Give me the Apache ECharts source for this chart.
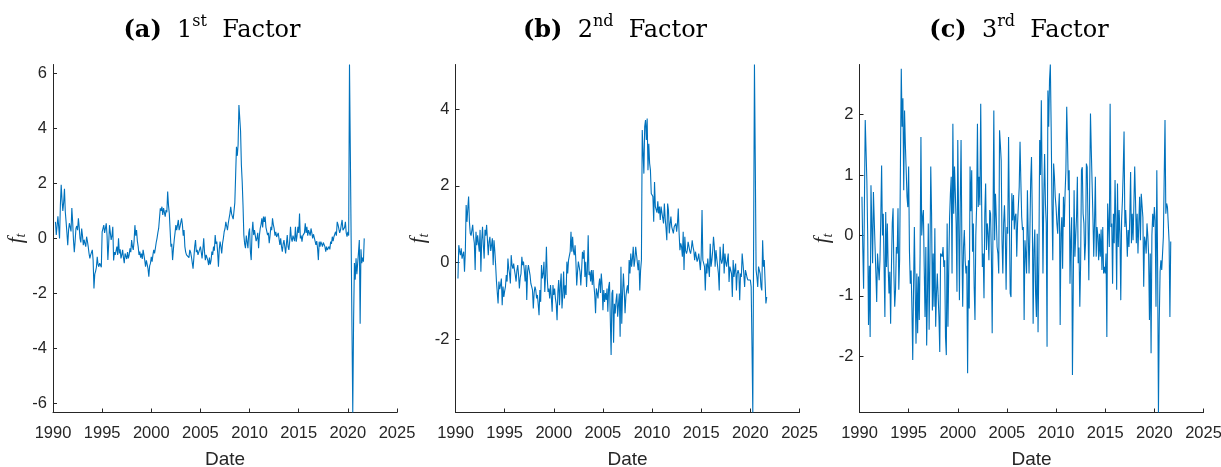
<!DOCTYPE html>
<html>
<head>
<meta charset="utf-8">
<script src="https://cdn.jsdelivr.net/npm/echarts@6/dist/echarts.min.js"></script>
<style>
html,body{margin:0;padding:0;background:#fff;}
#main{width:1221px;height:467px;}
</style>
</head>
<body>
<div id="main"></div>
<script>
// monthly factor estimates, Apr 1990 .. Sep 2021 (one row per year)
var startYear = 1990, startMonth = 4

var factor1 = [
  0.6, 0.12, 0.45, 0.8, 0.4, 0.0, 1.2, 1.95, 1.4,
  1.0, 1.3, 1.8, 0.97, 0.6, 0.2, -0.25, 0.3, 0.55, 0.6, 0.25, 1.1,
  0.6, -0.06, -0.5, -0.1, 0.36, 0.45, 0.3, 0.73, 0.4, 0.0, -0.15, 0.36,
  0.1, -0.25, -0.05, -0.18, -0.3, 0.06, -0.1, -0.3, -0.55, -0.73, -0.6, -0.67,
  -0.42, -0.8, -1.82, -1.3, -1.2, -1.05, -0.67, -0.95, -1.03, -0.9, -0.97, -1.05,
  0.24, 0.3, 0.48, 0.2, 0.36, 0.55, 0.1, -0.79, -0.2, 0.48, 0.2, -0.06,
  0.1, 0.42, -0.8, -0.5, -0.6, -0.45, -0.3, -0.6, 0.0, -0.55, -0.4, -0.73,
  -0.6, -0.42, -0.7, -0.9, -0.55, -0.6, -0.75, -0.5, -0.73, -0.6, -0.36, -0.5,
  -0.06, -0.3, -0.42, -0.1, 0.48, 0.1, 0.3, -0.1, -0.3, -0.6, -0.48, -0.7,
  -0.55, -0.75, -0.42, -0.6, -0.79, -1.03, -0.8, -0.85, -1.1, -1.39, -1.0, -0.91,
  -0.67, -0.85, -0.6, -0.42, -0.55, -0.36, -0.15, 0.0, 0.2, 0.36, 0.3, 1.09,
  1.0, 1.15, 0.85, 1.1, 1.03, 0.79, 1.03, 0.95, 1.7, 1.2, 0.91, 0.3,
  -0.3, -0.2, -0.79, -0.4, -0.06, 0.2, 0.48, 0.3, 0.48, 0.67, 0.3, 0.42,
  0.4, 0.73, 0.5, 0.1, 0.3, -0.3, -0.5, -0.6, -0.67, -0.55, -0.7, -0.42,
  -0.5, -0.67, -0.6, -1.1, -0.7, -0.3, -0.06, -0.5, -0.42, -0.6, -0.67, -0.4,
  -0.3, -0.5, -0.73, -0.4, 0.0, -0.5, -0.79, -0.6, -0.67, -0.8, -0.97, -0.7,
  -0.95, -0.8, -0.48, -0.6, -0.3, -0.45, 0.12, -0.2, -0.12, -0.5, -1.03, -0.4,
  -0.12, -0.3, -0.55, -0.18, 0.0, 0.24, 0.35, 0.6, 0.45, 0.3, 0.55, 0.73,
  0.9, 1.15, 0.9, 0.79, 0.7, 0.67, 1.3, 2.3, 3.33, 3.0, 3.4, 4.85,
  4.8, 3.9, 2.67, 2.06, 1.2, 0.12, -0.2, -0.36, 0.1, 0.12, -0.36, 0.2,
  0.36, -0.48, -0.79, 0.2, 0.6, 0.12, 0.3, 0.24, -0.1, 0.0, 0.2, -0.36,
  0.1, 0.36, 0.5, 0.73, 0.4, 0.79, 0.6, 0.79, 0.4, 0.36, 0.12, 0.2,
  -0.18, 0.1, 0.42, 0.3, 0.73, 0.5, 0.36, 0.1, 0.24, 0.05, 0.0, 0.2,
  0.24, -0.24, 0.0, -0.3, -0.48, -0.2, -0.06, -0.3, -0.55, -0.2, 0.12, -0.3,
  -0.42, -0.1, 0.42, 0.0, -0.12, 0.1, 0.06, -0.1, 0.42, -0.12, 0.1, 0.42,
  0.2, 0.9, 0.0, 0.1, -0.12, 0.1, 0.06, 0.2, 0.55, 0.2, 0.42, 0.1,
  0.3, 0.24, 0.1, 0.36, 0.2, 0.0, 0.15, 0.12, -0.1, -0.24, -0.1, -0.36,
  -0.79, -0.12, -0.3, -0.12, -0.2, -0.3, -0.15, -0.12, -0.3, -0.48, -0.3, -0.42,
  -0.45, -0.3, -0.4, -0.12, -0.2, 0.06, -0.1, 0.06, 0.1, 0.24, 0.1, 0.6,
  0.5, 0.48, 0.2, 0.3, 0.5, 0.67, 0.3, 0.24, 0.4, 0.6, 0.2, 0.06,
  0.24, 0.1, 6.32, 3.2, 0.0, -3.2, -6.33, -3.0, -0.9, -1.5, -0.72, -1.3,
  -0.9, -0.5, -0.06, -3.1, -0.4, -0.9, -0.7, -0.85, 0.0
]

var factor2 = [
  -0.42, 0.45, 0.3, 0.19, 0.37, 0.1, 0.2, 0.28, -0.24,
  0.28, 1.5, 1.06, 1.4, 1.72, 1.06, 0.76, 0.7, 0.67, 0.98, 0.67, 0.5,
  -0.2, 0.8, 0.45, 0.71, 0.5, 0.28, 0.85, -0.24, 0.58, 0.93, 0.45, 0.1,
  0.85, 0.7, 0.98, 0.98, 0.19, 0.54, 0.67, 0.3, 0.45, 0.63, -0.07, 0.58,
  0.3, -0.07, -0.5, -0.46, -1.07, -0.5, -0.7, -0.59, -0.42, -1.12, -0.63, -0.9,
  -0.75, -0.63, -0.33, -0.5, 0.1, -0.16, -0.3, -0.55, 0.19, -0.07, -0.16, -0.03,
  -0.2, -0.33, -0.5, -0.2, -0.07, -0.33, -0.68, -0.4, -0.29, 0.15, -0.07, 0.02,
  -0.2, -0.5, -0.07, -0.98, -0.24, -0.07, -0.2, -0.33, -0.55, -0.63, -0.72, -1.2,
  -0.8, -0.63, -0.72, -0.94, -0.85, -1.1, -1.38, -0.72, -1.03, -0.07, -0.42, -0.3,
  0.02, -0.77, -0.33, 0.41, -0.4, -0.77, -0.68, -0.94, -0.59, -0.9, -1.29, -0.59,
  -0.85, -0.68, -0.94, -1.1, -1.51, -0.77, -0.46, -1.12, -0.6, -0.29, -1.2, -0.85,
  -0.24, -0.94, -0.6, -0.85, 0.02, -0.29, 0.06, 0.1, 0.28, 0.8, 0.28, 0.67,
  0.3, 0.19, 0.45, 0.02, -0.6, -0.24, 0.02, 0.0, -0.24, -0.6, -0.2, 0.28,
  0.1, 0.32, -0.38, 0.02, -0.64, -0.2, 0.71, -0.33, -0.24, -0.5, -0.2, -0.59,
  -0.2, -0.59, -0.85, -1.33, -0.68, -0.8, -0.94, -0.59, -0.42, -0.8, -0.29, -0.59,
  -1.25, -0.72, -1.03, -0.8, -0.98, -0.68, -1.29, -0.64, -0.51, -0.46, -2.42, -0.81,
  -0.72, -2.1, -1.08, -1.33, -1.0, -0.81, -1.42, -1.1, -0.81, -1.94, -0.11, -1.6,
  -0.8, -0.29, -0.72, -1.33, -0.9, -0.72, -0.6, -0.81, 0.06, -0.29, 0.23, -0.11,
  0.1, 0.41, -0.11, 0.06, 0.41, 0.2, 0.15, -0.2, 0.06, -0.73, -0.2, 0.06,
  3.46, 3.5, 2.32, 3.55, 3.72, 3.2, 3.76, 2.41, 3.1, 2.59, 2.41, 1.8,
  1.8, 1.72, 1.06, 2.1, 1.46, 1.46, 1.3, 1.6, 1.28, 1.46, 1.11, 1.46,
  1.3, 1.28, 1.02, 1.54, 1.15, 0.9, 0.58, 1.54, 1.37, 0.76, 1.0, 1.2,
  0.93, 0.93, 0.76, 0.93, 0.9, 1.02, 0.8, 1.02, 1.41, 0.76, 0.32, 0.5,
  0.41, 0.15, 0.8, -0.2, 0.67, 0.3, 0.23, 0.32, 0.54, 0.5, 0.3, 0.23,
  0.36, 0.58, 0.41, 0.3, 0.06, 0.28, 0.15, 0.02, 0.1, 0.23, 0.28, -0.2,
  0.19, 1.37, 0.06, 0.1, -0.11, -0.73, -0.03, -0.29, 0.1, 0.06, -0.38, 0.49,
  -0.11, 0.06, 0.3, 0.67, 0.41, -0.11, 0.32, 0.1, 0.06, -0.29, -0.73, 0.41,
  0.1, -0.03, 0.06, 0.49, -0.29, 0.23, 0.0, -0.11, 0.06, 0.23, -0.51, -0.11,
  -0.2, -0.29, -0.9, 0.06, -0.38, -0.2, -0.03, -0.73, -0.29, -0.2, -0.3, -0.99,
  -0.29, -0.38, 0.23, -0.03, -0.3, -0.64, -0.2, -0.29, -0.4, -0.46, -0.5, -0.51,
  -0.46, -0.64, -2.2, -3.92, 0.6, 5.17, 2.67, -0.2, -0.38, -0.64, -0.11, -0.07,
  -0.3, -0.64, -0.73, 0.58, -0.11, 0.06, 0.06, -1.07, -0.9
]

var factor3 = [
  0.64, -0.2, -0.88, -0.9, 1.91, 1.91, 0.9, 0.0, -1.48,
  -0.5, -1.68, 0.83, 0.2, -0.46, 0.72, 0.72, -0.2, -0.63, -1.1, -0.3, -0.3,
  -0.74, -0.4, 0.3, 1.16, 0.0, 0.36, -0.5, -1.35, 0.39, -0.52, 0.2, -0.52,
  -0.96, -0.6, -1.46, -0.52, 0.2, 0.45, -0.63, -1.18, -0.9, -0.19, -0.3, 0.45,
  -0.9, -0.4, 1.2, 2.76, 1.8, 2.27, 0.75, 2.07, 1.5, 1.08, 0.64, 0.47,
  1.14, -0.27, -0.8, -0.58, -1.2, -2.06, -0.85, 0.14, -0.9, -1.79, -0.63, -1.62,
  -0.68, -1.4, -0.3, 1.63, 0.0, 0.3, 0.42, -0.52, -1.35, -0.19, -1.82, -0.96,
  0.2, -1.56, -0.4, 1.14, 0.36, -1.24, -0.3, -1.18, 0.12, -1.51, -0.96, -0.63,
  -1.0, -1.35, -1.93, -0.3, -0.27, -0.35, -0.19, -0.52, -0.41, -1.68, -1.98, 0.2,
  -1.51, -0.52, 0.3, 0.7, 0.97, -0.63, 1.85, 0.36, 1.14, 0.7, 0.2, -0.93,
  1.58, 0.31, -1.07, 0.5, 1.58, -0.16, -1.18, -0.19, 0.09, -0.41, -0.63, -0.5,
  -2.28, -0.41, -1.21, 1.14, 0.4, 1.08, -0.27, 0.2, -0.85, -1.4, 0.0, 0.47,
  1.85, 0.47, 0.97, 0.5, 2.18, 0.69, -0.52, -0.3, -1.04, 0.36, 0.86, -0.24,
  0.2, 0.03, -0.41, 0.42, 0.36, -0.3, -1.62, 0.2, 2.07, -0.08, 0.69, 0.3,
  -0.19, -0.3, -0.63, 1.74, 1.5, 1.24, -0.08, -0.63, 0.2, 0.5, 0.03, -0.9,
  0.14, 0.03, 1.63, 0.3, -0.96, -1.02, 0.7, 0.25, 0.67, 0.1, 0.31, 0.36,
  -0.35, 0.2, 0.5, 0.8, 1.55, 0.9, 0.31, 0.09, 0.14, -1.4, -0.08, -0.3,
  -0.63, 0.75, 0.03, -0.63, 0.03, 0.92, 1.3, 0.31, -1.46, -0.24, 0.1, -0.96,
  -1.35, 0.03, -1.6, -0.41, 1.58, 1.0, 2.24, 0.8, -0.63, 0.64, 1.35, 0.53,
  0.2, -1.84, 2.4, 1.8, 2.57, 2.83, 1.8, 0.5, -0.41, 1.19, 0.97, 0.64,
  0.47, 0.2, 0.03, 0.42, 0.7, -1.48, 0.03, 0.3, -0.55, 0.64, 0.14, 0.7,
  1.08, 2.13, 1.52, 0.75, 1.08, -0.8, -0.08, 0.3, -2.31, -0.85, 0.75, -0.35,
  0.0, 0.31, 0.97, -0.46, -0.2, -1.18, -0.46, 1.08, 1.13, 0.36, 0.2, -0.41,
  -0.13, 1.19, 1.13, 0.2, -0.74, 0.75, 2.02, 1.41, 0.86, 0.3, -0.35, 0.25,
  0.97, -0.35, 0.14, 0.0, -0.41, 0.03, -0.35, 0.1, -0.57, 0.14, -0.63, -0.52,
  -0.63, -0.3, -1.68, 0.53, 0.53, -0.19, 2.18, 0.14, 0.2, -0.8, 0.36, -0.13,
  0.92, 0.2, -0.9, 0.86, -0.19, 0.42, 0.03, -1.07, 0.25, 0.58, 1.08, 1.72,
  0.14, 0.42, 0.1, -0.35, 0.09, -0.19, 0.3, 1.05, -0.13, 0.36, -0.08, 0.5,
  1.14, 0.58, -0.13, 0.36, -0.3, 0.2, 0.64, -0.08, 0.69, 0.72, 0.3, -0.85,
  -0.02, -0.1, -0.3, 0.2, 0.0, -0.32, -1.4, -0.3, -1.95, 0.0, 0.36, 0.14,
  0.47, 0.25, -1.18, 1.08, -0.52, -2.93, -1.4, -0.6, -0.41, -0.57, -0.3, -0.02,
  0.0, 1.91, 0.36, 0.53, 0.47, 0.5, -0.1, -1.35, -0.1
]

var panelLetters = ['a', 'b', 'c']
var panelOrdinals = ['1', '2', '3']
var panelSuffixes = ['st', 'nd', 'rd']
var yTicks = [[-6, -4, -2, 0, 2, 4, 6], [-2, 0, 2, 4], [-2, -1, 0, 1, 2]]
var yMin = [-6.33, -3.92, -2.93]
var yMax = [6.32, 5.17, 2.83]

var allFactors = [factor1, factor2, factor3]
var gridLeft = [53, 455.5, 859.5]
var titleCenter = [207, 610, 1014]
var yNameGap = [17, 13, 14]
var axisColor = '#262626'
var lineColor = '#0072BD'
var serif = 'DejaVu Serif'

function toPairs(values) {
  return values.map(function (v, i) {
    return [startYear + (startMonth - 1 + i) / 12, v]
  })
}

var chart = echarts.init(document.getElementById('main'), null, { renderer: 'canvas' })

var option = {
  animation: false,
  backgroundColor: '#fff',
  title: [],
  grid: [],
  xAxis: [],
  yAxis: [],
  series: []
}

for (var k = 0; k < 3; k++) {
  option.title.push({
    text: '{b|(' + panelLetters[k] + ')}  {n|' + panelOrdinals[k] + '}{s|' + panelSuffixes[k] + '}  {n|Factor}',
    left: titleCenter[k],
    top: 9,
    textAlign: 'center',
    textStyle: {
      fontFamily: serif,
      fontSize: 24,
      fontWeight: 'normal',
      color: '#000',
      rich: {
        b: { fontFamily: serif, fontWeight: 'bold', fontSize: 24, lineHeight: 34, color: '#000' },
        n: { fontFamily: serif, fontWeight: 'normal', fontSize: 24, lineHeight: 34, color: '#000' },
        s: { fontFamily: serif, fontWeight: 'normal', fontSize: 16, lineHeight: 19, verticalAlign: 'top', color: '#000' }
      }
    }
  })
  option.grid.push({
    left: gridLeft[k], top: 64.5, width: 344, height: 348,
    containLabel: false, outerBoundsMode: 'none'
  })
  option.xAxis.push({
    type: 'value',
    gridIndex: k,
    min: 1990,
    max: 2025,
    interval: 5,
    name: 'Date',
    nameLocation: 'middle',
    nameGap: 38,
    nameTextStyle: { fontFamily: 'Liberation Sans', fontSize: 19, color: axisColor },
    axisLine: { onZero: false, lineStyle: { color: axisColor, width: 1 } },
    axisTick: { inside: true, length: 4, lineStyle: { color: axisColor } },
    axisLabel: {
      margin: 12,
      fontFamily: 'Liberation Sans',
      fontSize: 16.5,
      color: axisColor,
      showMinLabel: true,
      showMaxLabel: true,
      formatter: function (v) { return String(Math.round(v)) }
    },
    splitLine: { show: false }
  })
  ;(function (ticks) {
    option.yAxis.push({
      type: 'value',
      gridIndex: k,
      min: yMin[k],
      max: yMax[k],
      name: '{f|f}{t|t}',
      nameLocation: 'middle',
      nameRotate: 90,
      nameGap: yNameGap[k],
      nameTextStyle: {
        rich: {
          f: { fontFamily: 'Liberation Serif', fontStyle: 'italic', fontSize: 21, lineHeight: 24, color: axisColor },
          t: { fontFamily: 'Liberation Serif', fontStyle: 'italic', fontSize: 14, lineHeight: 14, verticalAlign: 'bottom', color: axisColor }
        }
      },
      axisLine: { show: true, onZero: false, lineStyle: { color: axisColor, width: 1 } },
      axisTick: { show: true, inside: true, length: 4, lineStyle: { color: axisColor }, customValues: ticks },
      axisLabel: {
        margin: 6,
        fontFamily: 'Liberation Sans',
        fontSize: 16.5,
        color: axisColor,
        customValues: ticks,
        formatter: function (v) {
          for (var j = 0; j < ticks.length; j++) {
            if (Math.abs(ticks[j] - v) < 1e-6) return String(ticks[j])
          }
          return ''
        }
      },
      splitLine: { show: false }
    })
  })(yTicks[k])
  option.series.push({
    type: 'line',
    xAxisIndex: k,
    yAxisIndex: k,
    data: toPairs(allFactors[k]),
    showSymbol: false,
    symbol: 'none',
    lineStyle: { color: lineColor, width: 1.1 },
    clip: true
  })
}

chart.setOption(option)
</script>
</body>
</html>
